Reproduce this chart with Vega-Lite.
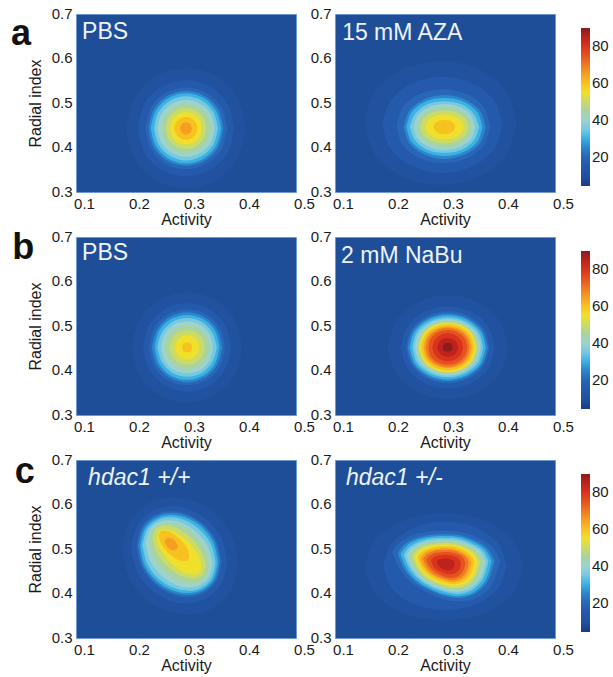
{
"$schema": "https://vega.github.io/schema/vega-lite/v6.json",
"background": "white",
"padding": {"left": 10, "top": 5, "right": 2, "bottom": 2},
"config": {
  "font": "Liberation Sans",
  "view": {"fill": "#1f4e98", "stroke": "#7098d0", "strokeWidth": 1},
  "axis": {"ticks": false, "domain": false, "grid": false, "labelFontSize": 15, "titleFontSize": 16, "titleFontWeight": "normal", "labelColor": "#1a1a1a", "titleColor": "#1a1a1a", "labelPadding": 4, "labelFlush": false},
  "axisX": {"titlePadding": 0, "labelOffset": 8},
  "axisY": {"titlePadding": 8, "labelOffset": -1},
  "legend": {"padding": 0, "offset": 7, "gradientLength": 158, "gradientThickness": 9, "labelFontSize": 15, "labelColor": "#1a1a1a", "labelOffset": 4, "titleFontSize": 10, "titlePadding": 4, "gradientStrokeWidth": 0}
},
"datasets": {
"d": [
{"p":"a1","l":10,"x":0.191,"y":0.443,"y2":0.443},{"p":"a1","l":10,"x":0.206,"y":0.510,"y2":0.376},{"p":"a1","l":10,"x":0.245,"y":0.560,"y2":0.326},{"p":"a1","l":10,"x":0.300,"y":0.578,"y2":0.308},{"p":"a1","l":10,"x":0.355,"y":0.560,"y2":0.326},{"p":"a1","l":10,"x":0.394,"y":0.510,"y2":0.376},{"p":"a1","l":10,"x":0.409,"y":0.443,"y2":0.443},
{"p":"a1","l":15,"x":0.213,"y":0.443,"y2":0.443},{"p":"a1","l":15,"x":0.224,"y":0.497,"y2":0.389},{"p":"a1","l":15,"x":0.256,"y":0.536,"y2":0.350},{"p":"a1","l":15,"x":0.300,"y":0.551,"y2":0.335},{"p":"a1","l":15,"x":0.344,"y":0.536,"y2":0.350},{"p":"a1","l":15,"x":0.376,"y":0.497,"y2":0.389},{"p":"a1","l":15,"x":0.387,"y":0.443,"y2":0.443},
{"p":"a1","l":20,"x":0.226,"y":0.443,"y2":0.443},{"p":"a1","l":20,"x":0.236,"y":0.489,"y2":0.397},{"p":"a1","l":20,"x":0.263,"y":0.523,"y2":0.363},{"p":"a1","l":20,"x":0.300,"y":0.535,"y2":0.351},{"p":"a1","l":20,"x":0.337,"y":0.523,"y2":0.363},{"p":"a1","l":20,"x":0.365,"y":0.489,"y2":0.397},{"p":"a1","l":20,"x":0.375,"y":0.443,"y2":0.443},
{"p":"a1","l":25,"x":0.232,"y":0.443,"y2":0.443},{"p":"a1","l":25,"x":0.241,"y":0.485,"y2":0.401},{"p":"a1","l":25,"x":0.266,"y":0.516,"y2":0.370},{"p":"a1","l":25,"x":0.300,"y":0.527,"y2":0.359},{"p":"a1","l":25,"x":0.334,"y":0.516,"y2":0.370},{"p":"a1","l":25,"x":0.359,"y":0.485,"y2":0.401},{"p":"a1","l":25,"x":0.368,"y":0.443,"y2":0.443},
{"p":"a1","l":30,"x":0.236,"y":0.443,"y2":0.443},{"p":"a1","l":30,"x":0.245,"y":0.482,"y2":0.404},{"p":"a1","l":30,"x":0.268,"y":0.511,"y2":0.375},{"p":"a1","l":30,"x":0.300,"y":0.522,"y2":0.364},{"p":"a1","l":30,"x":0.332,"y":0.511,"y2":0.375},{"p":"a1","l":30,"x":0.355,"y":0.482,"y2":0.404},{"p":"a1","l":30,"x":0.364,"y":0.443,"y2":0.443},
{"p":"a1","l":35,"x":0.242,"y":0.443,"y2":0.443},{"p":"a1","l":35,"x":0.250,"y":0.479,"y2":0.407},{"p":"a1","l":35,"x":0.271,"y":0.505,"y2":0.381},{"p":"a1","l":35,"x":0.300,"y":0.515,"y2":0.371},{"p":"a1","l":35,"x":0.329,"y":0.505,"y2":0.381},{"p":"a1","l":35,"x":0.350,"y":0.479,"y2":0.407},{"p":"a1","l":35,"x":0.358,"y":0.443,"y2":0.443},
{"p":"a1","l":40,"x":0.248,"y":0.443,"y2":0.443},{"p":"a1","l":40,"x":0.255,"y":0.475,"y2":0.411},{"p":"a1","l":40,"x":0.274,"y":0.498,"y2":0.388},{"p":"a1","l":40,"x":0.300,"y":0.507,"y2":0.379},{"p":"a1","l":40,"x":0.326,"y":0.498,"y2":0.388},{"p":"a1","l":40,"x":0.345,"y":0.475,"y2":0.411},{"p":"a1","l":40,"x":0.352,"y":0.443,"y2":0.443},
{"p":"a1","l":45,"x":0.256,"y":0.443,"y2":0.443},{"p":"a1","l":45,"x":0.262,"y":0.471,"y2":0.416},{"p":"a1","l":45,"x":0.278,"y":0.491,"y2":0.395},{"p":"a1","l":45,"x":0.300,"y":0.498,"y2":0.388},{"p":"a1","l":45,"x":0.322,"y":0.491,"y2":0.395},{"p":"a1","l":45,"x":0.339,"y":0.471,"y2":0.416},{"p":"a1","l":45,"x":0.345,"y":0.443,"y2":0.443},
{"p":"a1","l":50,"x":0.263,"y":0.443,"y2":0.443},{"p":"a1","l":50,"x":0.268,"y":0.466,"y2":0.420},{"p":"a1","l":50,"x":0.281,"y":0.483,"y2":0.403},{"p":"a1","l":50,"x":0.300,"y":0.489,"y2":0.397},{"p":"a1","l":50,"x":0.319,"y":0.483,"y2":0.403},{"p":"a1","l":50,"x":0.332,"y":0.466,"y2":0.420},{"p":"a1","l":50,"x":0.337,"y":0.443,"y2":0.443},
{"p":"a1","l":55,"x":0.271,"y":0.443,"y2":0.443},{"p":"a1","l":55,"x":0.275,"y":0.461,"y2":0.425},{"p":"a1","l":55,"x":0.285,"y":0.474,"y2":0.412},{"p":"a1","l":55,"x":0.300,"y":0.479,"y2":0.407},{"p":"a1","l":55,"x":0.315,"y":0.474,"y2":0.412},{"p":"a1","l":55,"x":0.325,"y":0.461,"y2":0.425},{"p":"a1","l":55,"x":0.329,"y":0.443,"y2":0.443},
{"p":"a1","l":60,"x":0.279,"y":0.443,"y2":0.443},{"p":"a1","l":60,"x":0.282,"y":0.456,"y2":0.430},{"p":"a1","l":60,"x":0.290,"y":0.465,"y2":0.421},{"p":"a1","l":60,"x":0.300,"y":0.469,"y2":0.417},{"p":"a1","l":60,"x":0.310,"y":0.465,"y2":0.421},{"p":"a1","l":60,"x":0.318,"y":0.456,"y2":0.430},{"p":"a1","l":60,"x":0.321,"y":0.443,"y2":0.443},
{"p":"a1","l":65,"x":0.289,"y":0.443,"y2":0.443},{"p":"a1","l":65,"x":0.291,"y":0.450,"y2":0.436},{"p":"a1","l":65,"x":0.295,"y":0.455,"y2":0.431},{"p":"a1","l":65,"x":0.300,"y":0.457,"y2":0.429},{"p":"a1","l":65,"x":0.305,"y":0.455,"y2":0.431},{"p":"a1","l":65,"x":0.309,"y":0.450,"y2":0.436},{"p":"a1","l":65,"x":0.311,"y":0.443,"y2":0.443},

{"p":"a2","l":10,"x":0.154,"y":0.455,"y2":0.455},{"p":"a2","l":10,"x":0.172,"y":0.525,"y2":0.385},{"p":"a2","l":10,"x":0.223,"y":0.576,"y2":0.334},{"p":"a2","l":10,"x":0.292,"y":0.594,"y2":0.316},{"p":"a2","l":10,"x":0.361,"y":0.576,"y2":0.334},{"p":"a2","l":10,"x":0.412,"y":0.525,"y2":0.385},{"p":"a2","l":10,"x":0.430,"y":0.455,"y2":0.455},
{"p":"a2","l":15,"x":0.186,"y":0.451,"y2":0.451},{"p":"a2","l":15,"x":0.201,"y":0.505,"y2":0.397},{"p":"a2","l":15,"x":0.240,"y":0.544,"y2":0.358},{"p":"a2","l":15,"x":0.295,"y":0.559,"y2":0.343},{"p":"a2","l":15,"x":0.350,"y":0.544,"y2":0.358},{"p":"a2","l":15,"x":0.390,"y":0.505,"y2":0.397},{"p":"a2","l":15,"x":0.404,"y":0.451,"y2":0.451},
{"p":"a2","l":20,"x":0.212,"y":0.448,"y2":0.448},{"p":"a2","l":20,"x":0.223,"y":0.490,"y2":0.406},{"p":"a2","l":20,"x":0.254,"y":0.520,"y2":0.376},{"p":"a2","l":20,"x":0.297,"y":0.531,"y2":0.365},{"p":"a2","l":20,"x":0.340,"y":0.520,"y2":0.376},{"p":"a2","l":20,"x":0.371,"y":0.490,"y2":0.406},{"p":"a2","l":20,"x":0.382,"y":0.448,"y2":0.448},
{"p":"a2","l":25,"x":0.225,"y":0.446,"y2":0.446},{"p":"a2","l":25,"x":0.235,"y":0.482,"y2":0.410},{"p":"a2","l":25,"x":0.262,"y":0.508,"y2":0.384},{"p":"a2","l":25,"x":0.299,"y":0.518,"y2":0.374},{"p":"a2","l":25,"x":0.336,"y":0.508,"y2":0.384},{"p":"a2","l":25,"x":0.364,"y":0.482,"y2":0.410},{"p":"a2","l":25,"x":0.374,"y":0.446,"y2":0.446},
{"p":"a2","l":30,"x":0.230,"y":0.446,"y2":0.446},{"p":"a2","l":30,"x":0.239,"y":0.479,"y2":0.413},{"p":"a2","l":30,"x":0.264,"y":0.503,"y2":0.390},{"p":"a2","l":30,"x":0.299,"y":0.511,"y2":0.381},{"p":"a2","l":30,"x":0.334,"y":0.503,"y2":0.390},{"p":"a2","l":30,"x":0.359,"y":0.479,"y2":0.413},{"p":"a2","l":30,"x":0.368,"y":0.446,"y2":0.446},
{"p":"a2","l":35,"x":0.236,"y":0.446,"y2":0.446},{"p":"a2","l":35,"x":0.245,"y":0.475,"y2":0.417},{"p":"a2","l":35,"x":0.268,"y":0.497,"y2":0.395},{"p":"a2","l":35,"x":0.299,"y":0.504,"y2":0.388},{"p":"a2","l":35,"x":0.330,"y":0.497,"y2":0.395},{"p":"a2","l":35,"x":0.353,"y":0.475,"y2":0.417},{"p":"a2","l":35,"x":0.362,"y":0.446,"y2":0.446},
{"p":"a2","l":40,"x":0.243,"y":0.446,"y2":0.446},{"p":"a2","l":40,"x":0.250,"y":0.472,"y2":0.420},{"p":"a2","l":40,"x":0.271,"y":0.491,"y2":0.401},{"p":"a2","l":40,"x":0.299,"y":0.498,"y2":0.394},{"p":"a2","l":40,"x":0.327,"y":0.491,"y2":0.401},{"p":"a2","l":40,"x":0.348,"y":0.472,"y2":0.420},{"p":"a2","l":40,"x":0.355,"y":0.446,"y2":0.446},
{"p":"a2","l":45,"x":0.249,"y":0.446,"y2":0.446},{"p":"a2","l":45,"x":0.256,"y":0.469,"y2":0.424},{"p":"a2","l":45,"x":0.274,"y":0.485,"y2":0.407},{"p":"a2","l":45,"x":0.299,"y":0.491,"y2":0.401},{"p":"a2","l":45,"x":0.324,"y":0.485,"y2":0.407},{"p":"a2","l":45,"x":0.342,"y":0.469,"y2":0.424},{"p":"a2","l":45,"x":0.349,"y":0.446,"y2":0.446},
{"p":"a2","l":50,"x":0.255,"y":0.446,"y2":0.446},{"p":"a2","l":50,"x":0.261,"y":0.465,"y2":0.427},{"p":"a2","l":50,"x":0.277,"y":0.478,"y2":0.414},{"p":"a2","l":50,"x":0.299,"y":0.483,"y2":0.409},{"p":"a2","l":50,"x":0.321,"y":0.478,"y2":0.414},{"p":"a2","l":50,"x":0.337,"y":0.465,"y2":0.427},{"p":"a2","l":50,"x":0.343,"y":0.446,"y2":0.446},
{"p":"a2","l":55,"x":0.265,"y":0.446,"y2":0.446},{"p":"a2","l":55,"x":0.269,"y":0.460,"y2":0.432},{"p":"a2","l":55,"x":0.282,"y":0.470,"y2":0.422},{"p":"a2","l":55,"x":0.299,"y":0.474,"y2":0.418},{"p":"a2","l":55,"x":0.316,"y":0.470,"y2":0.422},{"p":"a2","l":55,"x":0.329,"y":0.460,"y2":0.432},{"p":"a2","l":55,"x":0.334,"y":0.446,"y2":0.446},
{"p":"a2","l":60,"x":0.279,"y":0.446,"y2":0.446},{"p":"a2","l":60,"x":0.282,"y":0.454,"y2":0.438},{"p":"a2","l":60,"x":0.289,"y":0.460,"y2":0.432},{"p":"a2","l":60,"x":0.299,"y":0.462,"y2":0.430},{"p":"a2","l":60,"x":0.309,"y":0.460,"y2":0.432},{"p":"a2","l":60,"x":0.316,"y":0.454,"y2":0.438},{"p":"a2","l":60,"x":0.319,"y":0.446,"y2":0.446},

{"p":"b1","l":10,"x":0.202,"y":0.452,"y2":0.452},{"p":"b1","l":10,"x":0.215,"y":0.514,"y2":0.390},{"p":"b1","l":10,"x":0.252,"y":0.559,"y2":0.345},{"p":"b1","l":10,"x":0.302,"y":0.576,"y2":0.328},{"p":"b1","l":10,"x":0.352,"y":0.559,"y2":0.345},{"p":"b1","l":10,"x":0.389,"y":0.514,"y2":0.390},{"p":"b1","l":10,"x":0.402,"y":0.452,"y2":0.452},
{"p":"b1","l":15,"x":0.222,"y":0.452,"y2":0.452},{"p":"b1","l":15,"x":0.233,"y":0.502,"y2":0.403},{"p":"b1","l":15,"x":0.262,"y":0.538,"y2":0.366},{"p":"b1","l":15,"x":0.302,"y":0.551,"y2":0.353},{"p":"b1","l":15,"x":0.342,"y":0.538,"y2":0.366},{"p":"b1","l":15,"x":0.371,"y":0.502,"y2":0.403},{"p":"b1","l":15,"x":0.382,"y":0.452,"y2":0.452},
{"p":"b1","l":20,"x":0.233,"y":0.452,"y2":0.452},{"p":"b1","l":20,"x":0.242,"y":0.495,"y2":0.409},{"p":"b1","l":20,"x":0.267,"y":0.526,"y2":0.378},{"p":"b1","l":20,"x":0.302,"y":0.537,"y2":0.367},{"p":"b1","l":20,"x":0.337,"y":0.526,"y2":0.378},{"p":"b1","l":20,"x":0.362,"y":0.495,"y2":0.409},{"p":"b1","l":20,"x":0.371,"y":0.452,"y2":0.452},
{"p":"b1","l":25,"x":0.238,"y":0.452,"y2":0.452},{"p":"b1","l":25,"x":0.247,"y":0.491,"y2":0.413},{"p":"b1","l":25,"x":0.270,"y":0.520,"y2":0.384},{"p":"b1","l":25,"x":0.302,"y":0.531,"y2":0.373},{"p":"b1","l":25,"x":0.334,"y":0.520,"y2":0.384},{"p":"b1","l":25,"x":0.357,"y":0.491,"y2":0.413},{"p":"b1","l":25,"x":0.366,"y":0.452,"y2":0.452},
{"p":"b1","l":30,"x":0.243,"y":0.452,"y2":0.452},{"p":"b1","l":30,"x":0.251,"y":0.489,"y2":0.416},{"p":"b1","l":30,"x":0.272,"y":0.515,"y2":0.389},{"p":"b1","l":30,"x":0.302,"y":0.525,"y2":0.379},{"p":"b1","l":30,"x":0.332,"y":0.515,"y2":0.389},{"p":"b1","l":30,"x":0.353,"y":0.489,"y2":0.416},{"p":"b1","l":30,"x":0.361,"y":0.452,"y2":0.452},
{"p":"b1","l":35,"x":0.248,"y":0.452,"y2":0.452},{"p":"b1","l":35,"x":0.256,"y":0.485,"y2":0.419},{"p":"b1","l":35,"x":0.275,"y":0.509,"y2":0.395},{"p":"b1","l":35,"x":0.302,"y":0.518,"y2":0.386},{"p":"b1","l":35,"x":0.329,"y":0.509,"y2":0.395},{"p":"b1","l":35,"x":0.348,"y":0.485,"y2":0.419},{"p":"b1","l":35,"x":0.356,"y":0.452,"y2":0.452},
{"p":"b1","l":40,"x":0.255,"y":0.452,"y2":0.452},{"p":"b1","l":40,"x":0.261,"y":0.481,"y2":0.423},{"p":"b1","l":40,"x":0.278,"y":0.503,"y2":0.401},{"p":"b1","l":40,"x":0.302,"y":0.510,"y2":0.394},{"p":"b1","l":40,"x":0.326,"y":0.503,"y2":0.401},{"p":"b1","l":40,"x":0.343,"y":0.481,"y2":0.423},{"p":"b1","l":40,"x":0.349,"y":0.452,"y2":0.452},
{"p":"b1","l":45,"x":0.262,"y":0.452,"y2":0.452},{"p":"b1","l":45,"x":0.267,"y":0.477,"y2":0.427},{"p":"b1","l":45,"x":0.282,"y":0.495,"y2":0.409},{"p":"b1","l":45,"x":0.302,"y":0.501,"y2":0.403},{"p":"b1","l":45,"x":0.322,"y":0.495,"y2":0.409},{"p":"b1","l":45,"x":0.337,"y":0.477,"y2":0.427},{"p":"b1","l":45,"x":0.342,"y":0.452,"y2":0.452},
{"p":"b1","l":50,"x":0.270,"y":0.452,"y2":0.452},{"p":"b1","l":50,"x":0.275,"y":0.472,"y2":0.432},{"p":"b1","l":50,"x":0.286,"y":0.486,"y2":0.418},{"p":"b1","l":50,"x":0.302,"y":0.491,"y2":0.413},{"p":"b1","l":50,"x":0.318,"y":0.486,"y2":0.418},{"p":"b1","l":50,"x":0.330,"y":0.472,"y2":0.432},{"p":"b1","l":50,"x":0.334,"y":0.452,"y2":0.452},
{"p":"b1","l":55,"x":0.280,"y":0.452,"y2":0.452},{"p":"b1","l":55,"x":0.283,"y":0.466,"y2":0.439},{"p":"b1","l":55,"x":0.291,"y":0.475,"y2":0.429},{"p":"b1","l":55,"x":0.302,"y":0.479,"y2":0.425},{"p":"b1","l":55,"x":0.313,"y":0.475,"y2":0.429},{"p":"b1","l":55,"x":0.321,"y":0.466,"y2":0.439},{"p":"b1","l":55,"x":0.324,"y":0.452,"y2":0.452},
{"p":"b1","l":60,"x":0.293,"y":0.452,"y2":0.452},{"p":"b1","l":60,"x":0.294,"y":0.458,"y2":0.446},{"p":"b1","l":60,"x":0.297,"y":0.462,"y2":0.442},{"p":"b1","l":60,"x":0.302,"y":0.463,"y2":0.441},{"p":"b1","l":60,"x":0.307,"y":0.462,"y2":0.442},{"p":"b1","l":60,"x":0.310,"y":0.458,"y2":0.446},{"p":"b1","l":60,"x":0.311,"y":0.452,"y2":0.452},

{"p":"b2","l":10,"x":0.196,"y":0.452,"y2":0.452},{"p":"b2","l":10,"x":0.211,"y":0.510,"y2":0.394},{"p":"b2","l":10,"x":0.250,"y":0.553,"y2":0.351},{"p":"b2","l":10,"x":0.305,"y":0.569,"y2":0.335},{"p":"b2","l":10,"x":0.360,"y":0.553,"y2":0.351},{"p":"b2","l":10,"x":0.400,"y":0.510,"y2":0.394},{"p":"b2","l":10,"x":0.414,"y":0.452,"y2":0.452},
{"p":"b2","l":15,"x":0.220,"y":0.452,"y2":0.452},{"p":"b2","l":15,"x":0.231,"y":0.498,"y2":0.406},{"p":"b2","l":15,"x":0.262,"y":0.532,"y2":0.372},{"p":"b2","l":15,"x":0.305,"y":0.544,"y2":0.360},{"p":"b2","l":15,"x":0.348,"y":0.532,"y2":0.372},{"p":"b2","l":15,"x":0.379,"y":0.498,"y2":0.406},{"p":"b2","l":15,"x":0.390,"y":0.452,"y2":0.452},
{"p":"b2","l":20,"x":0.229,"y":0.452,"y2":0.452},{"p":"b2","l":20,"x":0.239,"y":0.493,"y2":0.412},{"p":"b2","l":20,"x":0.267,"y":0.522,"y2":0.382},{"p":"b2","l":20,"x":0.305,"y":0.533,"y2":0.371},{"p":"b2","l":20,"x":0.343,"y":0.522,"y2":0.382},{"p":"b2","l":20,"x":0.371,"y":0.493,"y2":0.412},{"p":"b2","l":20,"x":0.381,"y":0.452,"y2":0.452},
{"p":"b2","l":25,"x":0.232,"y":0.452,"y2":0.452},{"p":"b2","l":25,"x":0.242,"y":0.490,"y2":0.414},{"p":"b2","l":25,"x":0.269,"y":0.518,"y2":0.386},{"p":"b2","l":25,"x":0.305,"y":0.528,"y2":0.376},{"p":"b2","l":25,"x":0.341,"y":0.518,"y2":0.386},{"p":"b2","l":25,"x":0.368,"y":0.490,"y2":0.414},{"p":"b2","l":25,"x":0.378,"y":0.452,"y2":0.452},
{"p":"b2","l":30,"x":0.236,"y":0.452,"y2":0.452},{"p":"b2","l":30,"x":0.245,"y":0.488,"y2":0.416},{"p":"b2","l":30,"x":0.270,"y":0.514,"y2":0.390},{"p":"b2","l":30,"x":0.305,"y":0.524,"y2":0.380},{"p":"b2","l":30,"x":0.340,"y":0.514,"y2":0.390},{"p":"b2","l":30,"x":0.365,"y":0.488,"y2":0.416},{"p":"b2","l":30,"x":0.374,"y":0.452,"y2":0.452},
{"p":"b2","l":35,"x":0.241,"y":0.452,"y2":0.452},{"p":"b2","l":35,"x":0.249,"y":0.486,"y2":0.418},{"p":"b2","l":35,"x":0.273,"y":0.510,"y2":0.394},{"p":"b2","l":35,"x":0.305,"y":0.519,"y2":0.385},{"p":"b2","l":35,"x":0.337,"y":0.510,"y2":0.394},{"p":"b2","l":35,"x":0.361,"y":0.486,"y2":0.418},{"p":"b2","l":35,"x":0.369,"y":0.452,"y2":0.452},
{"p":"b2","l":40,"x":0.245,"y":0.452,"y2":0.452},{"p":"b2","l":40,"x":0.253,"y":0.484,"y2":0.421},{"p":"b2","l":40,"x":0.275,"y":0.507,"y2":0.398},{"p":"b2","l":40,"x":0.305,"y":0.515,"y2":0.389},{"p":"b2","l":40,"x":0.335,"y":0.507,"y2":0.398},{"p":"b2","l":40,"x":0.357,"y":0.484,"y2":0.421},{"p":"b2","l":40,"x":0.365,"y":0.452,"y2":0.452},
{"p":"b2","l":45,"x":0.249,"y":0.452,"y2":0.452},{"p":"b2","l":45,"x":0.256,"y":0.482,"y2":0.422},{"p":"b2","l":45,"x":0.277,"y":0.504,"y2":0.401},{"p":"b2","l":45,"x":0.305,"y":0.512,"y2":0.393},{"p":"b2","l":45,"x":0.333,"y":0.504,"y2":0.401},{"p":"b2","l":45,"x":0.354,"y":0.482,"y2":0.422},{"p":"b2","l":45,"x":0.361,"y":0.452,"y2":0.452},
{"p":"b2","l":50,"x":0.251,"y":0.452,"y2":0.452},{"p":"b2","l":50,"x":0.259,"y":0.481,"y2":0.423},{"p":"b2","l":50,"x":0.278,"y":0.502,"y2":0.402},{"p":"b2","l":50,"x":0.305,"y":0.509,"y2":0.395},{"p":"b2","l":50,"x":0.332,"y":0.502,"y2":0.402},{"p":"b2","l":50,"x":0.351,"y":0.481,"y2":0.423},{"p":"b2","l":50,"x":0.359,"y":0.452,"y2":0.452},
{"p":"b2","l":55,"x":0.254,"y":0.452,"y2":0.452},{"p":"b2","l":55,"x":0.261,"y":0.480,"y2":0.424},{"p":"b2","l":55,"x":0.280,"y":0.500,"y2":0.404},{"p":"b2","l":55,"x":0.305,"y":0.507,"y2":0.397},{"p":"b2","l":55,"x":0.330,"y":0.500,"y2":0.404},{"p":"b2","l":55,"x":0.349,"y":0.480,"y2":0.424},{"p":"b2","l":55,"x":0.356,"y":0.452,"y2":0.452},
{"p":"b2","l":60,"x":0.257,"y":0.452,"y2":0.452},{"p":"b2","l":60,"x":0.263,"y":0.478,"y2":0.426},{"p":"b2","l":60,"x":0.281,"y":0.497,"y2":0.407},{"p":"b2","l":60,"x":0.305,"y":0.504,"y2":0.400},{"p":"b2","l":60,"x":0.329,"y":0.497,"y2":0.407},{"p":"b2","l":60,"x":0.347,"y":0.478,"y2":0.426},{"p":"b2","l":60,"x":0.353,"y":0.452,"y2":0.452},
{"p":"b2","l":65,"x":0.261,"y":0.452,"y2":0.452},{"p":"b2","l":65,"x":0.267,"y":0.476,"y2":0.428},{"p":"b2","l":65,"x":0.283,"y":0.493,"y2":0.411},{"p":"b2","l":65,"x":0.305,"y":0.499,"y2":0.405},{"p":"b2","l":65,"x":0.327,"y":0.493,"y2":0.411},{"p":"b2","l":65,"x":0.343,"y":0.476,"y2":0.428},{"p":"b2","l":65,"x":0.349,"y":0.452,"y2":0.452},
{"p":"b2","l":70,"x":0.265,"y":0.452,"y2":0.452},{"p":"b2","l":70,"x":0.270,"y":0.474,"y2":0.430},{"p":"b2","l":70,"x":0.285,"y":0.490,"y2":0.414},{"p":"b2","l":70,"x":0.305,"y":0.496,"y2":0.408},{"p":"b2","l":70,"x":0.325,"y":0.490,"y2":0.414},{"p":"b2","l":70,"x":0.340,"y":0.474,"y2":0.430},{"p":"b2","l":70,"x":0.345,"y":0.452,"y2":0.452},
{"p":"b2","l":75,"x":0.270,"y":0.452,"y2":0.452},{"p":"b2","l":75,"x":0.274,"y":0.472,"y2":0.432},{"p":"b2","l":75,"x":0.287,"y":0.486,"y2":0.418},{"p":"b2","l":75,"x":0.305,"y":0.491,"y2":0.413},{"p":"b2","l":75,"x":0.323,"y":0.486,"y2":0.418},{"p":"b2","l":75,"x":0.336,"y":0.472,"y2":0.432},{"p":"b2","l":75,"x":0.341,"y":0.452,"y2":0.452},
{"p":"b2","l":80,"x":0.277,"y":0.452,"y2":0.452},{"p":"b2","l":80,"x":0.281,"y":0.468,"y2":0.436},{"p":"b2","l":80,"x":0.291,"y":0.479,"y2":0.425},{"p":"b2","l":80,"x":0.305,"y":0.484,"y2":0.421},{"p":"b2","l":80,"x":0.319,"y":0.479,"y2":0.425},{"p":"b2","l":80,"x":0.329,"y":0.468,"y2":0.436},{"p":"b2","l":80,"x":0.333,"y":0.452,"y2":0.452},
{"p":"b2","l":85,"x":0.286,"y":0.452,"y2":0.452},{"p":"b2","l":85,"x":0.289,"y":0.463,"y2":0.441},{"p":"b2","l":85,"x":0.295,"y":0.470,"y2":0.434},{"p":"b2","l":85,"x":0.305,"y":0.473,"y2":0.431},{"p":"b2","l":85,"x":0.315,"y":0.470,"y2":0.434},{"p":"b2","l":85,"x":0.321,"y":0.463,"y2":0.441},{"p":"b2","l":85,"x":0.324,"y":0.452,"y2":0.452},
{"p":"b2","l":90,"x":0.296,"y":0.452,"y2":0.452},{"p":"b2","l":90,"x":0.297,"y":0.457,"y2":0.447},{"p":"b2","l":90,"x":0.300,"y":0.461,"y2":0.443},{"p":"b2","l":90,"x":0.305,"y":0.462,"y2":0.442},{"p":"b2","l":90,"x":0.310,"y":0.461,"y2":0.443},{"p":"b2","l":90,"x":0.313,"y":0.457,"y2":0.447},{"p":"b2","l":90,"x":0.314,"y":0.452,"y2":0.452},

{"p":"c1","l":10,"x":0.184,"y":0.500,"y2":0.500},{"p":"c1","l":10,"x":0.198,"y":0.563,"y2":0.432},{"p":"c1","l":10,"x":0.236,"y":0.605,"y2":0.379},{"p":"c1","l":10,"x":0.289,"y":0.615,"y2":0.354},{"p":"c1","l":10,"x":0.342,"y":0.590,"y2":0.363},{"p":"c1","l":10,"x":0.381,"y":0.536,"y2":0.405},{"p":"c1","l":10,"x":0.395,"y":0.469,"y2":0.469},
{"p":"c1","l":15,"x":0.200,"y":0.502,"y2":0.502},{"p":"c1","l":15,"x":0.212,"y":0.554,"y2":0.446},{"p":"c1","l":15,"x":0.244,"y":0.588,"y2":0.401},{"p":"c1","l":15,"x":0.287,"y":0.595,"y2":0.378},{"p":"c1","l":15,"x":0.331,"y":0.572,"y2":0.385},{"p":"c1","l":15,"x":0.363,"y":0.527,"y2":0.419},{"p":"c1","l":15,"x":0.375,"y":0.471,"y2":0.471},
{"p":"c1","l":20,"x":0.210,"y":0.507,"y2":0.507},{"p":"c1","l":20,"x":0.220,"y":0.552,"y2":0.457},{"p":"c1","l":20,"x":0.249,"y":0.580,"y2":0.415},{"p":"c1","l":20,"x":0.287,"y":0.584,"y2":0.393},{"p":"c1","l":20,"x":0.326,"y":0.562,"y2":0.397},{"p":"c1","l":20,"x":0.355,"y":0.521,"y2":0.426},{"p":"c1","l":20,"x":0.365,"y":0.471,"y2":0.471},
{"p":"c1","l":25,"x":0.213,"y":0.507,"y2":0.507},{"p":"c1","l":25,"x":0.223,"y":0.550,"y2":0.459},{"p":"c1","l":25,"x":0.250,"y":0.576,"y2":0.419},{"p":"c1","l":25,"x":0.287,"y":0.580,"y2":0.398},{"p":"c1","l":25,"x":0.325,"y":0.559,"y2":0.401},{"p":"c1","l":25,"x":0.352,"y":0.519,"y2":0.428},{"p":"c1","l":25,"x":0.362,"y":0.471,"y2":0.471},
{"p":"c1","l":30,"x":0.217,"y":0.507,"y2":0.507},{"p":"c1","l":30,"x":0.226,"y":0.547,"y2":0.461},{"p":"c1","l":30,"x":0.252,"y":0.572,"y2":0.423},{"p":"c1","l":30,"x":0.287,"y":0.575,"y2":0.403},{"p":"c1","l":30,"x":0.323,"y":0.555,"y2":0.405},{"p":"c1","l":30,"x":0.349,"y":0.516,"y2":0.430},{"p":"c1","l":30,"x":0.358,"y":0.471,"y2":0.471},
{"p":"c1","l":35,"x":0.221,"y":0.509,"y2":0.509},{"p":"c1","l":35,"x":0.230,"y":0.546,"y2":0.466},{"p":"c1","l":35,"x":0.254,"y":0.568,"y2":0.429},{"p":"c1","l":35,"x":0.287,"y":0.569,"y2":0.409},{"p":"c1","l":35,"x":0.321,"y":0.548,"y2":0.409},{"p":"c1","l":35,"x":0.345,"y":0.512,"y2":0.431},{"p":"c1","l":35,"x":0.354,"y":0.469,"y2":0.469},
{"p":"c1","l":40,"x":0.227,"y":0.512,"y2":0.512},{"p":"c1","l":40,"x":0.235,"y":0.545,"y2":0.473},{"p":"c1","l":40,"x":0.257,"y":0.563,"y2":0.438},{"p":"c1","l":40,"x":0.287,"y":0.561,"y2":0.417},{"p":"c1","l":40,"x":0.318,"y":0.539,"y2":0.415},{"p":"c1","l":40,"x":0.340,"y":0.505,"y2":0.433},{"p":"c1","l":40,"x":0.348,"y":0.466,"y2":0.466},
{"p":"c1","l":45,"x":0.233,"y":0.519,"y2":0.519},{"p":"c1","l":45,"x":0.240,"y":0.546,"y2":0.484},{"p":"c1","l":45,"x":0.260,"y":0.559,"y2":0.451},{"p":"c1","l":45,"x":0.287,"y":0.554,"y2":0.429},{"p":"c1","l":45,"x":0.315,"y":0.531,"y2":0.423},{"p":"c1","l":45,"x":0.335,"y":0.499,"y2":0.436},{"p":"c1","l":45,"x":0.342,"y":0.464,"y2":0.464},
{"p":"c1","l":50,"x":0.239,"y":0.525,"y2":0.525},{"p":"c1","l":50,"x":0.246,"y":0.546,"y2":0.495},{"p":"c1","l":50,"x":0.263,"y":0.553,"y2":0.465},{"p":"c1","l":50,"x":0.287,"y":0.545,"y2":0.442},{"p":"c1","l":50,"x":0.312,"y":0.522,"y2":0.433},{"p":"c1","l":50,"x":0.329,"y":0.492,"y2":0.440},{"p":"c1","l":50,"x":0.336,"y":0.462,"y2":0.462},
{"p":"c1","l":55,"x":0.247,"y":0.526,"y2":0.526},{"p":"c1","l":55,"x":0.252,"y":0.541,"y2":0.502},{"p":"c1","l":55,"x":0.267,"y":0.543,"y2":0.476},{"p":"c1","l":55,"x":0.287,"y":0.532,"y2":0.454},{"p":"c1","l":55,"x":0.308,"y":0.511,"y2":0.443},{"p":"c1","l":55,"x":0.323,"y":0.484,"y2":0.446},{"p":"c1","l":55,"x":0.328,"y":0.461,"y2":0.461},
{"p":"c1","l":60,"x":0.250,"y":0.530,"y2":0.530},{"p":"c1","l":60,"x":0.254,"y":0.540,"y2":0.514},{"p":"c1","l":60,"x":0.264,"y":0.541,"y2":0.496},{"p":"c1","l":60,"x":0.278,"y":0.533,"y2":0.481},{"p":"c1","l":60,"x":0.292,"y":0.518,"y2":0.473},{"p":"c1","l":60,"x":0.303,"y":0.500,"y2":0.474},{"p":"c1","l":60,"x":0.306,"y":0.484,"y2":0.484},
{"p":"c1","l":65,"x":0.261,"y":0.516,"y2":0.516},{"p":"c1","l":65,"x":0.263,"y":0.522,"y2":0.510},{"p":"c1","l":65,"x":0.267,"y":0.525,"y2":0.503},{"p":"c1","l":65,"x":0.273,"y":0.524,"y2":0.498},{"p":"c1","l":65,"x":0.279,"y":0.520,"y2":0.497},{"p":"c1","l":65,"x":0.283,"y":0.512,"y2":0.500},{"p":"c1","l":65,"x":0.285,"y":0.506,"y2":0.506},

{"p":"c2","l":10,"x":0.154,"y":0.460,"y2":0.460},{"p":"c2","l":10,"x":0.173,"y":0.521,"y2":0.399},{"p":"c2","l":10,"x":0.226,"y":0.565,"y2":0.355},{"p":"c2","l":10,"x":0.298,"y":0.581,"y2":0.339},{"p":"c2","l":10,"x":0.370,"y":0.565,"y2":0.355},{"p":"c2","l":10,"x":0.423,"y":0.521,"y2":0.399},{"p":"c2","l":10,"x":0.442,"y":0.460,"y2":0.460},
{"p":"c2","l":15,"x":0.188,"y":0.462,"y2":0.462},{"p":"c2","l":15,"x":0.203,"y":0.512,"y2":0.412},{"p":"c2","l":15,"x":0.244,"y":0.548,"y2":0.376},{"p":"c2","l":15,"x":0.300,"y":0.561,"y2":0.363},{"p":"c2","l":15,"x":0.356,"y":0.548,"y2":0.376},{"p":"c2","l":15,"x":0.397,"y":0.512,"y2":0.412},{"p":"c2","l":15,"x":0.412,"y":0.462,"y2":0.462},
{"p":"c2","l":20,"x":0.204,"y":0.493,"y2":0.493},{"p":"c2","l":20,"x":0.217,"y":0.514,"y2":0.456},{"p":"c2","l":20,"x":0.238,"y":0.530,"y2":0.424},{"p":"c2","l":20,"x":0.266,"y":0.538,"y2":0.403},{"p":"c2","l":20,"x":0.298,"y":0.541,"y2":0.387},{"p":"c2","l":20,"x":0.329,"y":0.538,"y2":0.382},{"p":"c2","l":20,"x":0.361,"y":0.525,"y2":0.392},{"p":"c2","l":20,"x":0.387,"y":0.504,"y2":0.424},{"p":"c2","l":20,"x":0.400,"y":0.474,"y2":0.474},
{"p":"c2","l":25,"x":0.214,"y":0.490,"y2":0.490},{"p":"c2","l":25,"x":0.225,"y":0.509,"y2":0.457},{"p":"c2","l":25,"x":0.244,"y":0.523,"y2":0.428},{"p":"c2","l":25,"x":0.269,"y":0.531,"y2":0.409},{"p":"c2","l":25,"x":0.298,"y":0.533,"y2":0.395},{"p":"c2","l":25,"x":0.327,"y":0.531,"y2":0.390},{"p":"c2","l":25,"x":0.355,"y":0.519,"y2":0.400},{"p":"c2","l":25,"x":0.378,"y":0.500,"y2":0.428},{"p":"c2","l":25,"x":0.390,"y":0.473,"y2":0.473},
{"p":"c2","l":30,"x":0.219,"y":0.489,"y2":0.489},{"p":"c2","l":30,"x":0.230,"y":0.507,"y2":0.457},{"p":"c2","l":30,"x":0.248,"y":0.520,"y2":0.430},{"p":"c2","l":30,"x":0.271,"y":0.527,"y2":0.412},{"p":"c2","l":30,"x":0.298,"y":0.529,"y2":0.399},{"p":"c2","l":30,"x":0.325,"y":0.527,"y2":0.394},{"p":"c2","l":30,"x":0.352,"y":0.516,"y2":0.403},{"p":"c2","l":30,"x":0.374,"y":0.498,"y2":0.430},{"p":"c2","l":30,"x":0.385,"y":0.473,"y2":0.473},
{"p":"c2","l":35,"x":0.225,"y":0.487,"y2":0.487},{"p":"c2","l":35,"x":0.235,"y":0.504,"y2":0.458},{"p":"c2","l":35,"x":0.252,"y":0.516,"y2":0.433},{"p":"c2","l":35,"x":0.273,"y":0.523,"y2":0.416},{"p":"c2","l":35,"x":0.299,"y":0.525,"y2":0.404},{"p":"c2","l":35,"x":0.324,"y":0.523,"y2":0.399},{"p":"c2","l":35,"x":0.349,"y":0.512,"y2":0.408},{"p":"c2","l":35,"x":0.369,"y":0.496,"y2":0.433},{"p":"c2","l":35,"x":0.379,"y":0.473,"y2":0.473},
{"p":"c2","l":40,"x":0.230,"y":0.486,"y2":0.486},{"p":"c2","l":40,"x":0.239,"y":0.501,"y2":0.459},{"p":"c2","l":40,"x":0.255,"y":0.513,"y2":0.435},{"p":"c2","l":40,"x":0.275,"y":0.519,"y2":0.419},{"p":"c2","l":40,"x":0.299,"y":0.521,"y2":0.408},{"p":"c2","l":40,"x":0.322,"y":0.519,"y2":0.404},{"p":"c2","l":40,"x":0.346,"y":0.509,"y2":0.412},{"p":"c2","l":40,"x":0.365,"y":0.494,"y2":0.435},{"p":"c2","l":40,"x":0.374,"y":0.472,"y2":0.472},
{"p":"c2","l":45,"x":0.235,"y":0.485,"y2":0.485},{"p":"c2","l":45,"x":0.243,"y":0.499,"y2":0.459},{"p":"c2","l":45,"x":0.258,"y":0.510,"y2":0.437},{"p":"c2","l":45,"x":0.277,"y":0.516,"y2":0.423},{"p":"c2","l":45,"x":0.299,"y":0.517,"y2":0.412},{"p":"c2","l":45,"x":0.321,"y":0.516,"y2":0.408},{"p":"c2","l":45,"x":0.343,"y":0.506,"y2":0.415},{"p":"c2","l":45,"x":0.360,"y":0.492,"y2":0.437},{"p":"c2","l":45,"x":0.369,"y":0.472,"y2":0.472},
{"p":"c2","l":50,"x":0.240,"y":0.483,"y2":0.483},{"p":"c2","l":50,"x":0.248,"y":0.497,"y2":0.460},{"p":"c2","l":50,"x":0.261,"y":0.507,"y2":0.439},{"p":"c2","l":50,"x":0.279,"y":0.512,"y2":0.426},{"p":"c2","l":50,"x":0.299,"y":0.514,"y2":0.416},{"p":"c2","l":50,"x":0.319,"y":0.512,"y2":0.412},{"p":"c2","l":50,"x":0.340,"y":0.503,"y2":0.419},{"p":"c2","l":50,"x":0.356,"y":0.490,"y2":0.439},{"p":"c2","l":50,"x":0.364,"y":0.471,"y2":0.471},
{"p":"c2","l":55,"x":0.245,"y":0.482,"y2":0.482},{"p":"c2","l":55,"x":0.252,"y":0.494,"y2":0.460},{"p":"c2","l":55,"x":0.264,"y":0.504,"y2":0.442},{"p":"c2","l":55,"x":0.281,"y":0.508,"y2":0.429},{"p":"c2","l":55,"x":0.299,"y":0.510,"y2":0.420},{"p":"c2","l":55,"x":0.318,"y":0.508,"y2":0.417},{"p":"c2","l":55,"x":0.337,"y":0.500,"y2":0.423},{"p":"c2","l":55,"x":0.352,"y":0.488,"y2":0.442},{"p":"c2","l":55,"x":0.359,"y":0.471,"y2":0.471},
{"p":"c2","l":60,"x":0.250,"y":0.481,"y2":0.481},{"p":"c2","l":60,"x":0.256,"y":0.492,"y2":0.461},{"p":"c2","l":60,"x":0.268,"y":0.500,"y2":0.444},{"p":"c2","l":60,"x":0.283,"y":0.505,"y2":0.432},{"p":"c2","l":60,"x":0.300,"y":0.506,"y2":0.424},{"p":"c2","l":60,"x":0.317,"y":0.505,"y2":0.421},{"p":"c2","l":60,"x":0.334,"y":0.497,"y2":0.427},{"p":"c2","l":60,"x":0.347,"y":0.486,"y2":0.444},{"p":"c2","l":60,"x":0.354,"y":0.471,"y2":0.471},
{"p":"c2","l":65,"x":0.255,"y":0.479,"y2":0.479},{"p":"c2","l":65,"x":0.261,"y":0.489,"y2":0.461},{"p":"c2","l":65,"x":0.272,"y":0.497,"y2":0.446},{"p":"c2","l":65,"x":0.285,"y":0.500,"y2":0.436},{"p":"c2","l":65,"x":0.300,"y":0.502,"y2":0.429},{"p":"c2","l":65,"x":0.315,"y":0.500,"y2":0.426},{"p":"c2","l":65,"x":0.330,"y":0.494,"y2":0.431},{"p":"c2","l":65,"x":0.342,"y":0.484,"y2":0.446},{"p":"c2","l":65,"x":0.348,"y":0.470,"y2":0.470},
{"p":"c2","l":70,"x":0.260,"y":0.478,"y2":0.478},{"p":"c2","l":70,"x":0.266,"y":0.487,"y2":0.462},{"p":"c2","l":70,"x":0.275,"y":0.493,"y2":0.448},{"p":"c2","l":70,"x":0.287,"y":0.497,"y2":0.439},{"p":"c2","l":70,"x":0.300,"y":0.498,"y2":0.433},{"p":"c2","l":70,"x":0.314,"y":0.497,"y2":0.430},{"p":"c2","l":70,"x":0.327,"y":0.491,"y2":0.435},{"p":"c2","l":70,"x":0.338,"y":0.482,"y2":0.448},{"p":"c2","l":70,"x":0.343,"y":0.470,"y2":0.470},
{"p":"c2","l":75,"x":0.266,"y":0.476,"y2":0.476},{"p":"c2","l":75,"x":0.271,"y":0.484,"y2":0.462},{"p":"c2","l":75,"x":0.279,"y":0.490,"y2":0.451},{"p":"c2","l":75,"x":0.289,"y":0.492,"y2":0.443},{"p":"c2","l":75,"x":0.300,"y":0.493,"y2":0.437},{"p":"c2","l":75,"x":0.312,"y":0.492,"y2":0.435},{"p":"c2","l":75,"x":0.324,"y":0.488,"y2":0.439},{"p":"c2","l":75,"x":0.333,"y":0.480,"y2":0.451},{"p":"c2","l":75,"x":0.337,"y":0.469,"y2":0.469},
{"p":"c2","l":80,"x":0.274,"y":0.474,"y2":0.474},{"p":"c2","l":80,"x":0.278,"y":0.480,"y2":0.463},{"p":"c2","l":80,"x":0.284,"y":0.484,"y2":0.454},{"p":"c2","l":80,"x":0.292,"y":0.486,"y2":0.449},{"p":"c2","l":80,"x":0.301,"y":0.487,"y2":0.444},{"p":"c2","l":80,"x":0.310,"y":0.486,"y2":0.443},{"p":"c2","l":80,"x":0.319,"y":0.483,"y2":0.446},{"p":"c2","l":80,"x":0.326,"y":0.477,"y2":0.454},{"p":"c2","l":80,"x":0.329,"y":0.469,"y2":0.469},
{"p":"c2","l":85,"x":0.285,"y":0.471,"y2":0.471},{"p":"c2","l":85,"x":0.287,"y":0.474,"y2":0.465},{"p":"c2","l":85,"x":0.291,"y":0.477,"y2":0.459},{"p":"c2","l":85,"x":0.296,"y":0.478,"y2":0.455},{"p":"c2","l":85,"x":0.301,"y":0.479,"y2":0.453},{"p":"c2","l":85,"x":0.307,"y":0.478,"y2":0.452},{"p":"c2","l":85,"x":0.312,"y":0.476,"y2":0.454},{"p":"c2","l":85,"x":0.316,"y":0.473,"y2":0.459},{"p":"c2","l":85,"x":0.318,"y":0.468,"y2":0.468}
]
},
"vconcat": [
 {"hconcat": [
  {"width": 220, "height": 178, "layer": [
   {"data": {"name": "d"}, "transform": [{"filter": "datum.p === 'a1'"}], "mark": {"type": "area", "interpolate": "catmull-rom", "clip": true},
    "encoding": {
     "x": {"field": "x", "type": "quantitative", "scale": {"domain": [0.1, 0.5], "nice": false, "zero": false}, "axis": {"values": [0.1, 0.2, 0.3, 0.4, 0.5], "format": ".1f", "title": "Activity"}},
     "y": {"field": "y", "type": "quantitative", "stack": null, "scale": {"domain": [0.3, 0.7], "nice": false, "zero": false}, "axis": {"values": [0.3, 0.4, 0.5, 0.6, 0.7], "format": ".1f", "title": "Radial index"}},
     "y2": {"field": "y2"},
     "detail": {"field": "l", "type": "quantitative"},
     "color": {"field": "l", "type": "quantitative", "scale": {"domain": [4, 10, 15, 20, 25, 30, 35, 40, 45, 50, 55, 60, 65, 70, 75, 80, 85, 90], "range": ["#1b3b8d", "#2152a0", "#2459ab", "#2867b8", "#2d85cb", "#3ab2e3", "#78c9e0", "#9dd3cd", "#a9d39f", "#cbdb66", "#f1e02b", "#f7c21f", "#f59e22", "#ef7822", "#e6521f", "#d9331d", "#bd221c", "#8a1c1c"], "interpolate": "rgb"}, "legend": {"title": " ", "values": [20, 40, 60, 80]}}
    }},
   {"data": {"values": [{"t": "PBS"}]}, "mark": {"type": "text", "align": "left", "baseline": "middle", "fontSize": 23, "color": "#eef3fb"},
    "encoding": {"x": {"datum": 0.111, "type": "quantitative", "scale": {"domain": [0.1, 0.5], "nice": false, "zero": false}}, "y": {"datum": 0.66, "type": "quantitative", "scale": {"domain": [0.3, 0.7], "nice": false, "zero": false}}, "text": {"field": "t"}}},
   {"data": {"values": [{"t": "a"}]}, "mark": {"type": "text", "align": "center", "baseline": "alphabetic", "fontSize": 36, "fontWeight": "bold", "color": "#111111"},
    "encoding": {"x": {"datum": 0.0, "type": "quantitative", "scale": {"domain": [0.1, 0.5], "nice": false, "zero": false}}, "y": {"datum": 0.63, "type": "quantitative", "scale": {"domain": [0.3, 0.7], "nice": false, "zero": false}}, "text": {"field": "t"}}}
  ]},
  {"width": 220, "height": 178, "layer": [
   {"data": {"name": "d"}, "transform": [{"filter": "datum.p === 'a2'"}], "mark": {"type": "area", "interpolate": "catmull-rom", "clip": true},
    "encoding": {
     "x": {"field": "x", "type": "quantitative", "scale": {"domain": [0.1, 0.5], "nice": false, "zero": false}, "axis": {"values": [0.1, 0.2, 0.3, 0.4, 0.5], "format": ".1f", "title": "Activity"}},
     "y": {"field": "y", "type": "quantitative", "stack": null, "scale": {"domain": [0.3, 0.7], "nice": false, "zero": false}, "axis": {"values": [0.3, 0.4, 0.5, 0.6, 0.7], "format": ".1f", "title": null}},
     "y2": {"field": "y2"},
     "detail": {"field": "l", "type": "quantitative"},
     "color": {"field": "l", "type": "quantitative", "scale": {"domain": [4, 10, 15, 20, 25, 30, 35, 40, 45, 50, 55, 60, 65, 70, 75, 80, 85, 90], "range": ["#1b3b8d", "#2152a0", "#2459ab", "#2867b8", "#2d85cb", "#3ab2e3", "#78c9e0", "#9dd3cd", "#a9d39f", "#cbdb66", "#f1e02b", "#f7c21f", "#f59e22", "#ef7822", "#e6521f", "#d9331d", "#bd221c", "#8a1c1c"], "interpolate": "rgb"}, "legend": {"title": " ", "values": [20, 40, 60, 80]}}
    }},
   {"data": {"values": [{"t": "15 mM AZA"}]}, "mark": {"type": "text", "align": "left", "baseline": "middle", "fontSize": 23, "color": "#eef3fb"},
    "encoding": {"x": {"datum": 0.113, "type": "quantitative", "scale": {"domain": [0.1, 0.5], "nice": false, "zero": false}}, "y": {"datum": 0.657, "type": "quantitative", "scale": {"domain": [0.3, 0.7], "nice": false, "zero": false}}, "text": {"field": "t"}}}
  ]}
 ], "spacing": -6},
 {"hconcat": [
  {"width": 220, "height": 178, "layer": [
   {"data": {"name": "d"}, "transform": [{"filter": "datum.p === 'b1'"}], "mark": {"type": "area", "interpolate": "catmull-rom", "clip": true},
    "encoding": {
     "x": {"field": "x", "type": "quantitative", "scale": {"domain": [0.1, 0.5], "nice": false, "zero": false}, "axis": {"values": [0.1, 0.2, 0.3, 0.4, 0.5], "format": ".1f", "title": "Activity"}},
     "y": {"field": "y", "type": "quantitative", "stack": null, "scale": {"domain": [0.3, 0.7], "nice": false, "zero": false}, "axis": {"values": [0.3, 0.4, 0.5, 0.6, 0.7], "format": ".1f", "title": "Radial index"}},
     "y2": {"field": "y2"},
     "detail": {"field": "l", "type": "quantitative"},
     "color": {"field": "l", "type": "quantitative", "scale": {"domain": [4, 10, 15, 20, 25, 30, 35, 40, 45, 50, 55, 60, 65, 70, 75, 80, 85, 90], "range": ["#1b3b8d", "#2152a0", "#2459ab", "#2867b8", "#2d85cb", "#3ab2e3", "#78c9e0", "#9dd3cd", "#a9d39f", "#cbdb66", "#f1e02b", "#f7c21f", "#f59e22", "#ef7822", "#e6521f", "#d9331d", "#bd221c", "#8a1c1c"], "interpolate": "rgb"}, "legend": {"title": " ", "values": [20, 40, 60, 80]}}
    }},
   {"data": {"values": [{"t": "PBS"}]}, "mark": {"type": "text", "align": "left", "baseline": "middle", "fontSize": 23, "color": "#eef3fb"},
    "encoding": {"x": {"datum": 0.111, "type": "quantitative", "scale": {"domain": [0.1, 0.5], "nice": false, "zero": false}}, "y": {"datum": 0.663, "type": "quantitative", "scale": {"domain": [0.3, 0.7], "nice": false, "zero": false}}, "text": {"field": "t"}}},
   {"data": {"values": [{"t": "b"}]}, "mark": {"type": "text", "align": "center", "baseline": "alphabetic", "fontSize": 36, "fontWeight": "bold", "color": "#111111"},
    "encoding": {"x": {"datum": 0.004, "type": "quantitative", "scale": {"domain": [0.1, 0.5], "nice": false, "zero": false}}, "y": {"datum": 0.65, "type": "quantitative", "scale": {"domain": [0.3, 0.7], "nice": false, "zero": false}}, "text": {"field": "t"}}}
  ]},
  {"width": 220, "height": 178, "layer": [
   {"data": {"name": "d"}, "transform": [{"filter": "datum.p === 'b2'"}], "mark": {"type": "area", "interpolate": "catmull-rom", "clip": true},
    "encoding": {
     "x": {"field": "x", "type": "quantitative", "scale": {"domain": [0.1, 0.5], "nice": false, "zero": false}, "axis": {"values": [0.1, 0.2, 0.3, 0.4, 0.5], "format": ".1f", "title": "Activity"}},
     "y": {"field": "y", "type": "quantitative", "stack": null, "scale": {"domain": [0.3, 0.7], "nice": false, "zero": false}, "axis": {"values": [0.3, 0.4, 0.5, 0.6, 0.7], "format": ".1f", "title": null}},
     "y2": {"field": "y2"},
     "detail": {"field": "l", "type": "quantitative"},
     "color": {"field": "l", "type": "quantitative", "scale": {"domain": [4, 10, 15, 20, 25, 30, 35, 40, 45, 50, 55, 60, 65, 70, 75, 80, 85, 90], "range": ["#1b3b8d", "#2152a0", "#2459ab", "#2867b8", "#2d85cb", "#3ab2e3", "#78c9e0", "#9dd3cd", "#a9d39f", "#cbdb66", "#f1e02b", "#f7c21f", "#f59e22", "#ef7822", "#e6521f", "#d9331d", "#bd221c", "#8a1c1c"], "interpolate": "rgb"}, "legend": {"title": " ", "values": [20, 40, 60, 80]}}
    }},
   {"data": {"values": [{"t": "2 mM NaBu"}]}, "mark": {"type": "text", "align": "left", "baseline": "middle", "fontSize": 23, "color": "#eef3fb"},
    "encoding": {"x": {"datum": 0.111, "type": "quantitative", "scale": {"domain": [0.1, 0.5], "nice": false, "zero": false}}, "y": {"datum": 0.658, "type": "quantitative", "scale": {"domain": [0.3, 0.7], "nice": false, "zero": false}}, "text": {"field": "t"}}}
  ]}
 ], "spacing": -6},
 {"hconcat": [
  {"width": 220, "height": 178, "layer": [
   {"data": {"name": "d"}, "transform": [{"filter": "datum.p === 'c1'"}], "mark": {"type": "area", "interpolate": "catmull-rom", "clip": true},
    "encoding": {
     "x": {"field": "x", "type": "quantitative", "scale": {"domain": [0.1, 0.5], "nice": false, "zero": false}, "axis": {"values": [0.1, 0.2, 0.3, 0.4, 0.5], "format": ".1f", "title": "Activity"}},
     "y": {"field": "y", "type": "quantitative", "stack": null, "scale": {"domain": [0.3, 0.7], "nice": false, "zero": false}, "axis": {"values": [0.3, 0.4, 0.5, 0.6, 0.7], "format": ".1f", "title": "Radial index"}},
     "y2": {"field": "y2"},
     "detail": {"field": "l", "type": "quantitative"},
     "color": {"field": "l", "type": "quantitative", "scale": {"domain": [4, 10, 15, 20, 25, 30, 35, 40, 45, 50, 55, 60, 65, 70, 75, 80, 85, 90], "range": ["#1b3b8d", "#2152a0", "#2459ab", "#2867b8", "#2d85cb", "#3ab2e3", "#78c9e0", "#9dd3cd", "#a9d39f", "#cbdb66", "#f1e02b", "#f7c21f", "#f59e22", "#ef7822", "#e6521f", "#d9331d", "#bd221c", "#8a1c1c"], "interpolate": "rgb"}, "legend": {"title": " ", "values": [20, 40, 60, 80]}}
    }},
   {"data": {"values": [{"t": "hdac1 +/+"}]}, "mark": {"type": "text", "align": "left", "baseline": "middle", "fontSize": 23, "fontStyle": "italic", "color": "#eef3fb"},
    "encoding": {"x": {"datum": 0.122, "type": "quantitative", "scale": {"domain": [0.1, 0.5], "nice": false, "zero": false}}, "y": {"datum": 0.66, "type": "quantitative", "scale": {"domain": [0.3, 0.7], "nice": false, "zero": false}}, "text": {"field": "t"}}},
   {"data": {"values": [{"t": "c"}]}, "mark": {"type": "text", "align": "center", "baseline": "alphabetic", "fontSize": 36, "fontWeight": "bold", "color": "#111111"},
    "encoding": {"x": {"datum": 0.007, "type": "quantitative", "scale": {"domain": [0.1, 0.5], "nice": false, "zero": false}}, "y": {"datum": 0.648, "type": "quantitative", "scale": {"domain": [0.3, 0.7], "nice": false, "zero": false}}, "text": {"field": "t"}}}
  ]},
  {"width": 220, "height": 178, "layer": [
   {"data": {"name": "d"}, "transform": [{"filter": "datum.p === 'c2'"}], "mark": {"type": "area", "interpolate": "catmull-rom", "clip": true},
    "encoding": {
     "x": {"field": "x", "type": "quantitative", "scale": {"domain": [0.1, 0.5], "nice": false, "zero": false}, "axis": {"values": [0.1, 0.2, 0.3, 0.4, 0.5], "format": ".1f", "title": "Activity"}},
     "y": {"field": "y", "type": "quantitative", "stack": null, "scale": {"domain": [0.3, 0.7], "nice": false, "zero": false}, "axis": {"values": [0.3, 0.4, 0.5, 0.6, 0.7], "format": ".1f", "title": null}},
     "y2": {"field": "y2"},
     "detail": {"field": "l", "type": "quantitative"},
     "color": {"field": "l", "type": "quantitative", "scale": {"domain": [4, 10, 15, 20, 25, 30, 35, 40, 45, 50, 55, 60, 65, 70, 75, 80, 85, 90], "range": ["#1b3b8d", "#2152a0", "#2459ab", "#2867b8", "#2d85cb", "#3ab2e3", "#78c9e0", "#9dd3cd", "#a9d39f", "#cbdb66", "#f1e02b", "#f7c21f", "#f59e22", "#ef7822", "#e6521f", "#d9331d", "#bd221c", "#8a1c1c"], "interpolate": "rgb"}, "legend": {"title": " ", "values": [20, 40, 60, 80]}}
    }},
   {"data": {"values": [{"t": "hdac1 +/-"}]}, "mark": {"type": "text", "align": "left", "baseline": "middle", "fontSize": 23, "fontStyle": "italic", "color": "#eef3fb"},
    "encoding": {"x": {"datum": 0.12, "type": "quantitative", "scale": {"domain": [0.1, 0.5], "nice": false, "zero": false}}, "y": {"datum": 0.66, "type": "quantitative", "scale": {"domain": [0.3, 0.7], "nice": false, "zero": false}}, "text": {"field": "t"}}}
  ]}
 ], "spacing": -6}
],
"spacing": 0,
"resolve": {"scale": {"color": "independent"}, "legend": {"color": "independent"}}
}
